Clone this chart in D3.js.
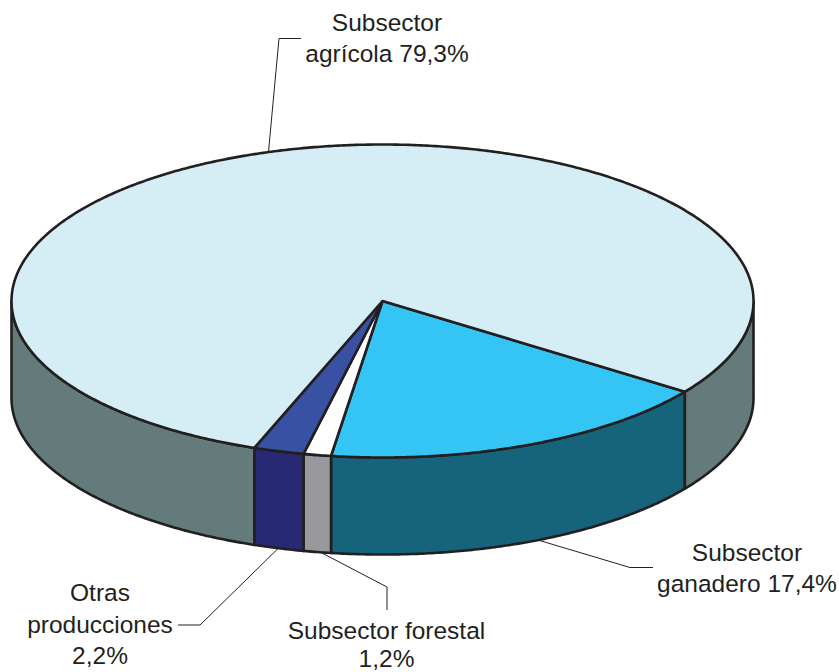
<!DOCTYPE html>
<html>
<head>
<meta charset="utf-8">
<style>
html,body{margin:0;padding:0;background:#fff;overflow:hidden}
svg{display:block}
text{font-family:"Liberation Sans",Arial,sans-serif;font-size:24.5px;fill:#231f20;text-anchor:middle}
</style>
<script src="https://d3js.org/d3.v7.min.js"></script>
</head>
<body>
<svg id="chart" width="839" height="672"></svg>
<script>
// Data
const categories = ["Subsector ganadero", "Subsector forestal", "Otras producciones", "Subsector agrícola"];
const shares = [17.4, 1.2, 2.2, 79.3];
const topColors = ["#35c5f4", "#ffffff", "#3851a3", "#d5eef5"];
const sideColors = ["#16647c", "#98999c", "#272973", "#637c7b"];
const labelLines = [
  ["Subsector", "ganadero 17,4%"],
  ["Subsector forestal", "1,2%"],
  ["Otras", "producciones", "2,2%"],
  ["Subsector", "agrícola 79,3%"]
];

// Layout
const W = 839, H = 672;
const ink = "#231f20";
const depth = 97;
const startDeg = 125.4;
const x = d3.scaleLinear().domain([-1, 1]).range([11.5, 753.5]);
const y = d3.scaleLinear().domain([-1, 1]).range([144.5, 457.5]);
const labelPos = [
  {x: 747, ys: [560.5, 591.5], anchorDeg: 155.2, leader: [[630, 567.5], [653, 567.5]]},
  {x: 386.5, ys: [639, 667], anchorDeg: 189.6, leader: [[387, 587], [387, 610]]},
  {x: 100, ys: [601, 633, 664], anchorDeg: 196.3, leader: [[200, 625], [178, 625]]},
  {x: 387, ys: [31, 62], anchorDeg: 342.1, top: true, leader: [[279, 38.5], [301, 38.5]]}
];

const svg = d3.select("#chart");
const pie = d3.pie().sort(null)
  .startAngle(startDeg * Math.PI / 180)
  .endAngle((startDeg + 360) * Math.PI / 180);
const slices = pie(shares);

// pie angle (0 at 12 o'clock, clockwise) -> point on the rim ellipse
const rim = (a, dy = 0) => [x(Math.sin(a)), y(-Math.cos(a)) + dy];
const samples = (a0, a1) => {
  const n = Math.max(2, Math.ceil(Math.abs(a1 - a0) / 0.008));
  return d3.range(n + 1).map(i => a0 + (a1 - a0) * i / n);
};
const line = d3.line();
const centre = [x(0), y(0)];

// Parts of a slice's rim that face the viewer (lower half of the ellipse)
function frontRanges(a0, a1) {
  const out = [];
  for (let k = 0; k < 2; k++) {
    const lo = Math.PI / 2 + k * 2 * Math.PI, hi = 3 * Math.PI / 2 + k * 2 * Math.PI;
    const s = Math.max(a0, lo), e = Math.min(a1, hi);
    if (e > s) out.push([s, e]);
  }
  return out;
}

const strokeW = 2.6;
const sides = svg.append("g");
slices.forEach((s, i) => {
  frontRanges(s.startAngle, s.endAngle).forEach(([a0, a1]) => {
    const as = samples(a0, a1);
    const pts = as.map(a => rim(a)).concat(as.slice().reverse().map(a => rim(a, depth)));
    sides.append("path")
      .attr("d", line(pts) + "Z")
      .attr("fill", sideColors[i])
      .attr("stroke", ink)
      .attr("stroke-width", strokeW)
      .attr("stroke-linejoin", "round");
  });
});

const tops = svg.append("g");
slices.forEach((s, i) => {
  const pts = [centre].concat(samples(s.startAngle, s.endAngle).map(a => rim(a)));
  tops.append("path")
    .attr("d", line(pts) + "Z")
    .attr("fill", topColors[i])
    .attr("stroke", ink)
    .attr("stroke-width", strokeW)
    .attr("stroke-linejoin", "round");
});

// Leader lines
const leaders = svg.append("g");
labelPos.forEach((p, i) => {
  const a = p.anchorDeg * Math.PI / 180;
  const start = p.top ? rim(a) : rim(a, depth);
  leaders.append("path")
    .attr("d", line([start].concat(p.leader)))
    .attr("fill", "none")
    .attr("stroke", ink)
    .attr("stroke-width", 1);
});

// Labels
labelLines.forEach((lines, i) => {
  const t = svg.append("text").attr("aria-label", categories[i]);
  lines.forEach((l, j) => {
    t.append("tspan").attr("x", labelPos[i].x).attr("y", labelPos[i].ys[j]).text(l);
  });
});
</script>
</body>
</html>
